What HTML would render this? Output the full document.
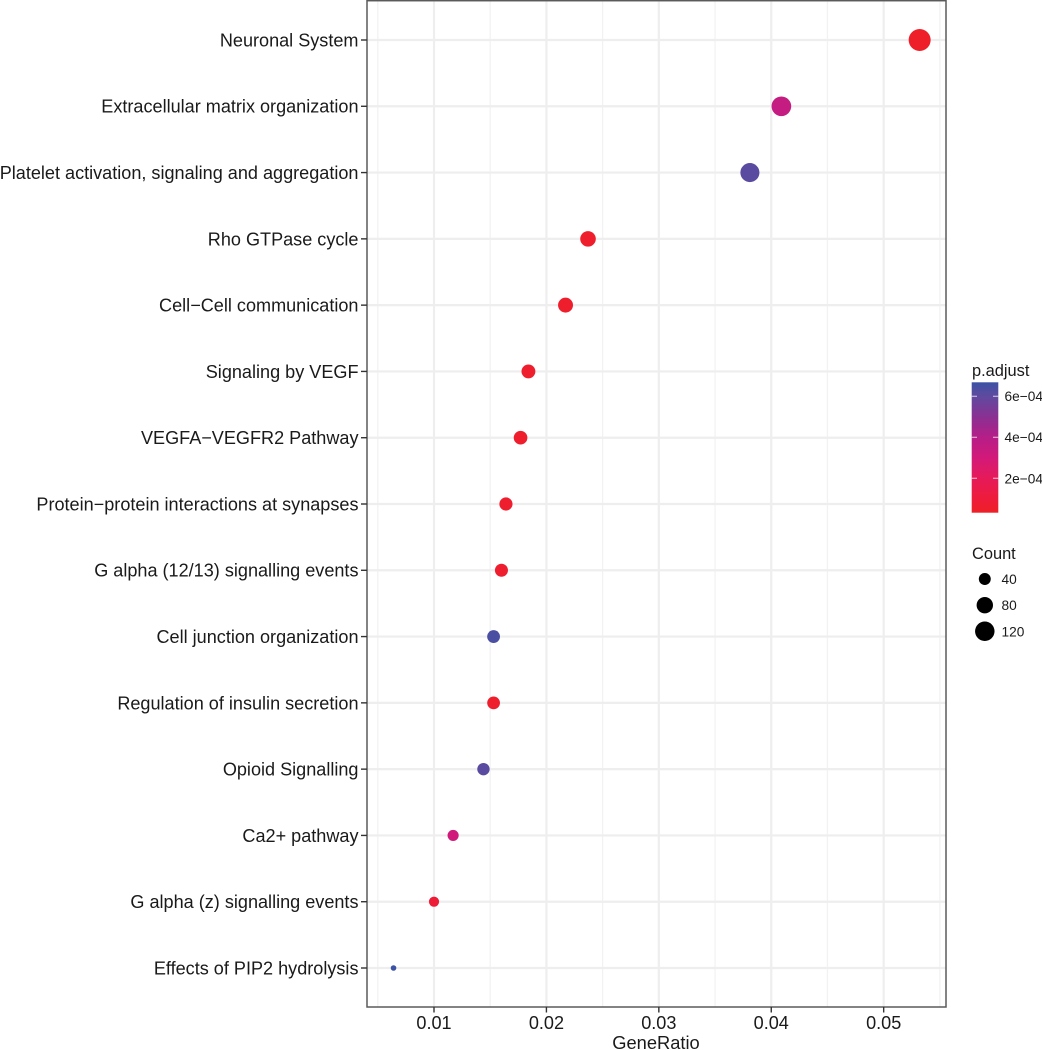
<!DOCTYPE html>
<html>
<head>
<meta charset="utf-8">
<title>GeneRatio dot plot</title>
<style>
html,body{margin:0;padding:0;background:#fff;}
#chart{display:block;width:1042px;height:1050px;}
text{font-family:"Liberation Sans",Arial,sans-serif;fill:#1a1a1a;}
</style>
</head>
<body>
<svg id="chart" xmlns="http://www.w3.org/2000/svg" width="1042" height="1050" viewBox="0 0 1042 1050"></svg>
<script>
const categories = [
  "Neuronal System",
  "Extracellular matrix organization",
  "Platelet activation, signaling and aggregation",
  "Rho GTPase cycle",
  "Cell\u2212Cell communication",
  "Signaling by VEGF",
  "VEGFA\u2212VEGFR2 Pathway",
  "Protein\u2212protein interactions at synapses",
  "G alpha (12/13) signalling events",
  "Cell junction organization",
  "Regulation of insulin secretion",
  "Opioid Signalling",
  "Ca2+ pathway",
  "G alpha (z) signalling events",
  "Effects of PIP2 hydrolysis"
];
const geneRatio = [0.0532,0.0409,0.0381,0.0237,0.0217,0.0184,0.0177,0.0164,0.0160,0.0153,0.0153,0.0144,0.0117,0.0100,0.0064];
const counts = [160,123,114,71,65,55,53,49,48,46,46,43,35,30,19];
const pAdjust = [0.00004,0.00035,0.00061,0.00005,0.00005,0.00006,0.00005,0.00006,0.00006,0.00064,0.00005,0.00061,0.00031,0.00009,0.00068];
const xTicks = [0.01,0.02,0.03,0.04,0.05];
const xTickLabels = ["0.01","0.02","0.03","0.04","0.05"];
const xMinorTicks = [0.005,0.015,0.025,0.035,0.045,0.055];
const colorTicks = [0.0002,0.0004,0.0006];
const colorTickLabels = ["2e\u221204","4e\u221204","6e\u221204"];
const colorDomain = [0.000032,0.000668];
const colorStopValues = [0.000032,0.0001,0.0002,0.0003,0.0004,0.0005,0.0006,0.000668];
const colorStopColors = ["#EF1F27","#EE1C3A","#E61A5A","#D21979","#B51E88","#8A3093","#5F4A9F","#3C52A4"];
const sizeLegendCounts = [40,80,120];
const sizeDomain = [19,160];

const NS = "http://www.w3.org/2000/svg";
const svg = document.getElementById("chart");

function el(tag, attrs, parent) {
  const e = document.createElementNS(NS, tag);
  for (const k in attrs) e.setAttribute(k, attrs[k]);
  (parent || svg).appendChild(e);
  return e;
}

const panel = {left:367, right:946, top:0.7, bottom:1007};
function xScale(v) { return 434 + (v - 0.01) * 11242; }
function yScale(i) { return 40 + i * (968 - 40) / (categories.length - 1); }
function rScale(c) {
  return 2.8 + 8.2 * Math.sqrt((c - sizeDomain[0]) / (sizeDomain[1] - sizeDomain[0]));
}
function hexToRgb(h) {
  return [parseInt(h.slice(1,3),16),parseInt(h.slice(3,5),16),parseInt(h.slice(5,7),16)];
}
function colorScale(p) {
  const n = colorStopValues.length;
  if (p <= colorStopValues[0]) return colorStopColors[0];
  if (p >= colorStopValues[n-1]) return colorStopColors[n-1];
  for (let i = 0; i < n - 1; i++) {
    if (p <= colorStopValues[i+1]) {
      const t = (p - colorStopValues[i]) / (colorStopValues[i+1] - colorStopValues[i]);
      const a = hexToRgb(colorStopColors[i]);
      const b = hexToRgb(colorStopColors[i+1]);
      return "rgb(" + a.map((v,j) => Math.round(v + (b[j]-v)*t)).join(",") + ")";
    }
  }
}

/* panel background and grid */
const bg = el("rect",{x:panel.left,y:panel.top,width:panel.right-panel.left,height:panel.bottom-panel.top,fill:"#fff"});



xMinorTicks.forEach(function (v) {
  const l = el("line",{x1:xScale(v),x2:xScale(v),y1:panel.top,y2:panel.bottom,stroke:"#f2f2f2","stroke-width":1.3});
  
  
});
xTicks.forEach(function (v) {
  const l = el("line",{x1:xScale(v),x2:xScale(v),y1:panel.top,y2:panel.bottom,stroke:"#eeeeee","stroke-width":2.2});
  
  
});
categories.forEach(function (c, i) {
  const l = el("line",{x1:panel.left,x2:panel.right,y1:yScale(i),y2:yScale(i),stroke:"#eeeeee","stroke-width":2.2});
  
  
});

/* points */
categories.forEach(function (c, i) {
  const d = el("circle",{cx:xScale(geneRatio[i]),cy:yScale(i),r:rScale(counts[i]),fill:colorScale(pAdjust[i])});
  
  
});

/* panel border */
const border = el("rect",{x:panel.left,y:panel.top,width:panel.right-panel.left,height:panel.bottom-panel.top,fill:"none",stroke:"#5a5a5a","stroke-width":1.5});



/* y axis */
categories.forEach(function (c, i) {
  const t = el("line",{x1:361,x2:panel.left,y1:yScale(i),y2:yScale(i),stroke:"#333","stroke-width":1.4});
  
  
  const lab = el("text",{x:358.5,y:yScale(i)+6.4,"text-anchor":"end","font-size":18.08});
  lab.textContent = c;
  
  
});

/* x axis */
xTicks.forEach(function (v, i) {
  const t = el("line",{x1:xScale(v),x2:xScale(v),y1:panel.bottom,y2:1012.5,stroke:"#333","stroke-width":1.4});
  
  
  const lab = el("text",{x:xScale(v),y:1029,"text-anchor":"middle","font-size":18.08});
  lab.textContent = xTickLabels[i];
  
  
});
const xTitle = el("text",{x:656,y:1049,"text-anchor":"middle","font-size":18.3});
xTitle.textContent = "GeneRatio";



/* colour legend */
const defs = el("defs",{});
const grad = el("linearGradient",{id:"pgrad",x1:0,y1:1,x2:0,y2:0},defs);
colorStopValues.forEach(function (v, i) {
  el("stop",{offset:(v-colorDomain[0])/(colorDomain[1]-colorDomain[0]),"stop-color":colorStopColors[i]},grad);
});
const barTop = 382.3, barBottom = 512.7, barLeft = 971.7, barRight = 998.3;
function colorY(v) {
  return barBottom - (v-colorDomain[0])/(colorDomain[1]-colorDomain[0])*(barBottom-barTop);
}
const legTitle = el("text",{x:972,y:376,"font-size":16.4});
legTitle.textContent = "p.adjust";


const bar = el("rect",{x:barLeft,y:barTop,width:barRight-barLeft,height:barBottom-barTop,fill:"url(#pgrad)"});


colorTicks.forEach(function (v, i) {
  const y = colorY(v);
  const t1 = el("line",{x1:barLeft,x2:barLeft+5.3,y1:y,y2:y,stroke:"#fff","stroke-width":1,opacity:0.75});
  
  
  const t2 = el("line",{x1:barRight-5.3,x2:barRight,y1:y,y2:y,stroke:"#fff","stroke-width":1,opacity:0.75});
  
  
  const lab = el("text",{x:1004.5,y:y+5,"font-size":13.7});
  lab.textContent = colorTickLabels[i];
  
  
});

/* size legend */
const sizeTitle = el("text",{x:972,y:559,"font-size":16.4});
sizeTitle.textContent = "Count";


sizeLegendCounts.forEach(function (c, i) {
  const y = 579 + i * 26.15;
  const d = el("circle",{cx:984.8,cy:y,r:rScale(c),fill:"#000"});
  
  
  const lab = el("text",{x:1001.5,y:y+5,"font-size":13.7});
  lab.textContent = String(c);
  
  
});
</script>
</body>
</html>
